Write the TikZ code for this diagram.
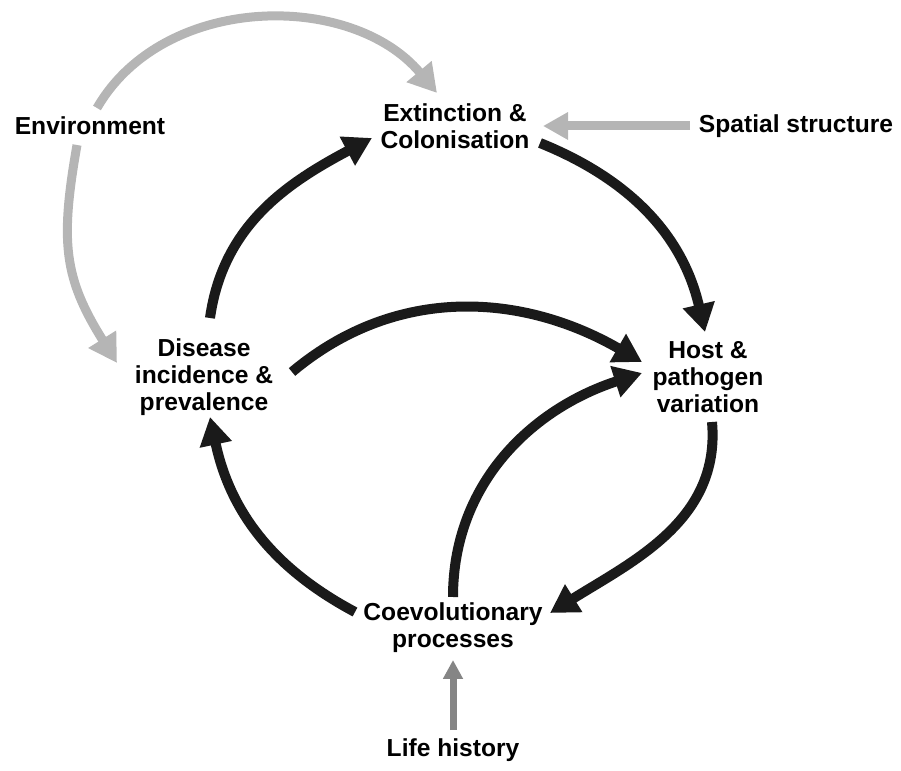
\documentclass[tikz,border=0pt]{standalone}
\usepackage{fontspec}
\setmainfont{Liberation Sans}
\usetikzlibrary{arrows.meta}

\definecolor{lightgrey}{HTML}{B5B5B5}
\definecolor{midgrey}{HTML}{858585}
\definecolor{nearblack}{HTML}{1A1A1A}

\tikzset{
    lbl/.style={font=\fontsize{14}{15.5}\selectfont\bfseries, align=center, inner sep=0pt},
    mainarrow/.style={nearblack, line width=10*0.02cm, -{Triangle[length=0.56cm,width=0.62cm]}},
    envarrow/.style={lightgrey, line width=9*0.02cm, -{Triangle[length=0.56cm,width=0.62cm]}},
    spaarrow/.style={lightgrey, line width=9*0.02cm, -{Triangle[length=0.5cm,width=0.52cm]}},
    lifearrow/.style={midgrey, line width=7*0.02cm, -{Triangle[length=0.38cm,width=0.38cm]}}
}

\begin{document}
\begin{tikzpicture}[x=0.02cm, y=0.02cm]
    \useasboundingbox (0,0) rectangle (901,770);

    % --- labels ---
    \node[lbl] (env)  at (90,644)  {Environment};
    \node[lbl] (ext)  at (455,644) {Extinction \&\\Colonisation};
    \node[lbl] (spa)  at (796,644) {Spatial structure};
    \node[lbl] (dis)  at (204,393) {Disease\\incidence \&\\prevalence};
    \node[lbl] (host) at (708,393) {Host \&\\pathogen\\variation};
    \node[lbl] (coe)  at (453,142) {Coevolutionary\\processes};
    \node[lbl] (life) at (453,20)  {Life history};

    % --- outside influences (grey) ---
    \draw[envarrow] ([shift={(7,18)}]env.center) to[out=60, in=130] ([shift={(-18,33)}]ext.center);
    \draw[envarrow] ([shift={(-13,-19)}]env.center) to[out=-100, in=122, looseness=1.15] ([shift={(-87,14)}]dis.center);
    \draw[spaarrow] ([shift={(-106,0)}]spa.center) -- ([shift={(88,0)}]ext.center);
    \draw[lifearrow] ([shift={(0,20)}]life.center) -- ([shift={(0,-32)}]coe.center);

    % --- main cycle (black) ---
    \draw[mainarrow] ([shift={(6,59)}]dis.center) to[out=82, in=208] ([shift={(-83,-12)}]ext.center);
    \draw[mainarrow] ([shift={(85,-17)}]ext.center) to[out=-22, in=103] ([shift={(-3,45)}]host.center);
    \draw[mainarrow] ([shift={(88,5)}]dis.center) to[out=40, in=150] ([shift={(-66,15)}]host.center);
    \draw[mainarrow] ([shift={(0,31)}]coe.center) to[out=90, in=198] ([shift={(-66,4)}]host.center);
    \draw[mainarrow] ([shift={(4,-45)}]host.center) to[out=-85, in=32] ([shift={(97,15)}]coe.center);
    \draw[mainarrow] ([shift={(-98,16)}]coe.center) to[out=152, in=-78] ([shift={(6,-40)}]dis.center);
\end{tikzpicture}
\end{document}
